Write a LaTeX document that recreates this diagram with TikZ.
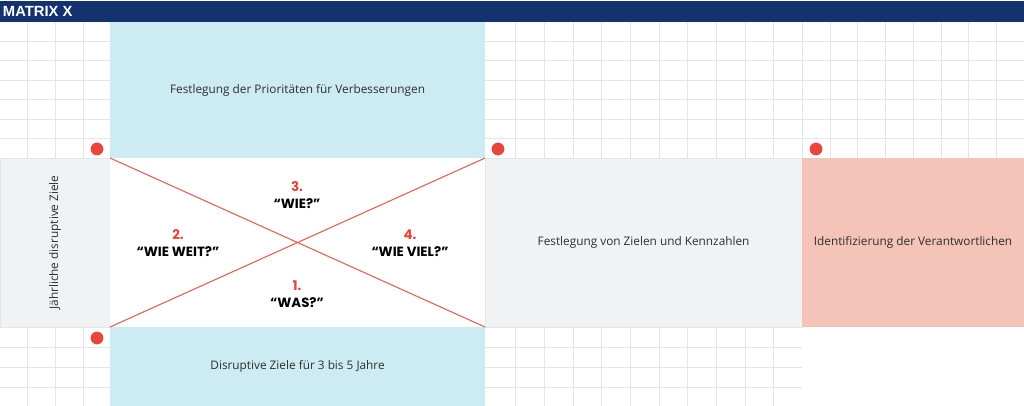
\documentclass[tikz,border=0pt]{standalone}
\usepackage{fontspec}
\usepackage{xcolor}
\usepackage{tikz}
\usetikzlibrary{positioning}
\setmainfont{Open Sans}
\newfontfamily\headfont{Liberation Sans}
\newfontfamily\quotefont{Poppins}

\definecolor{navy}{HTML}{13326F}
\definecolor{skyblue}{HTML}{CDEBF2}
\definecolor{paleGray}{HTML}{F1F2F4}
\definecolor{salmon}{HTML}{F4C4B8}
\definecolor{dotred}{HTML}{E8453C}
\definecolor{xred}{HTML}{E0685A}
\definecolor{gridgray}{HTML}{E3E5E8}

\begin{document}
\begin{tikzpicture}[x=0.025cm, y=-0.025cm,
                    every node/.style={inner sep=0pt, outer sep=0pt},
                    cell/.style={anchor=north west, font=\fontsize{8.4}{10}\selectfont, text=black!82},
                    dot/.style={circle, fill=dotred, minimum size=0.32cm},
                    answer/.style={align=center, font=\quotefont\bfseries\fontsize{9.5}{12}\selectfont}]
    \useasboundingbox (0,0) rectangle (1024,406);
    %\draw[help lines] (0,0) grid (1024,406);

   % Background grid
   \begin{scope}[gridgray, line width=0.5pt]
    \foreach \y in {41.4,60.8,80.2,99.6,119,138.4}
      \draw (0,\y) -- (110,\y) (485,\y) -- (1024,\y);
    \foreach \y in {347,367,387}
      \draw (0,\y) -- (110,\y) (485,\y) -- (802,\y);
    \foreach \x in {27.5,55,83}
      \draw (\x,22) -- (\x,158) (\x,327) -- (\x,406);
    \foreach \x in {515,544,573,601,630,659,687,716,745,773}
      \draw (\x,22) -- (\x,158) (\x,327) -- (\x,406);
    \foreach \x in {802,830,857,885,913,941,968,996}
      \draw (\x,22) -- (\x,158);
   \end{scope}

   % Header
   \node[anchor=north west, fill=navy, minimum width=25.6cm, minimum height=0.525cm] (header) at (0,1) {};
   \node[anchor=west, text=white, font=\headfont\bfseries\fontsize{10.5}{12}\selectfont] (title) at (3,11.5) {MATRIX X};

   % Cells of the matrix
   \node[cell, fill=skyblue, minimum width=9.375cm, minimum height=3.4cm] (prio) at (110,22)
        {Festlegung der Prioritäten für Verbesserungen};
   \node[cell, fill=paleGray, draw=gridgray, minimum width=2.75cm, minimum height=4.225cm] (annual) at (0,158) {};
   \node[rotate=90, font=\fontsize{8.4}{10}\selectfont, text=black!82] (annualtext) at (annual.center)
        {Jährliche disruptive Ziele};
   \node[cell, fill=white, minimum width=9.375cm, minimum height=4.225cm] (cross) at (110,158) {};
   \node[cell, fill=paleGray, draw=gridgray, minimum width=7.925cm, minimum height=4.225cm] (kpi) at (485,158)
        {Festlegung von Zielen und Kennzahlen};
   \node[cell, fill=salmon, minimum width=5.55cm, minimum height=4.225cm] (owner) at (802,158)
        {Identifizierung der Verantwortlichen};
   \node[cell, fill=skyblue, minimum width=9.375cm, minimum height=1.975cm] (longterm) at (110,327)
        {Disruptive Ziele für 3 bis 5 Jahre};

   % The X
   \draw[xred, line width=0.8pt] (cross.north west) -- (cross.south east)
                                 (cross.south west) -- (cross.north east);

   % Questions
   \node[answer] (how)     at (297,195) {\textcolor{dotred}{3.}\\“WIE?”};
   \node[answer] (howfar)  at (178,243) {\textcolor{dotred}{2.}\\“WIE WEIT?”};
   \node[answer] (howmuch) at (410,243) {\textcolor{dotred}{4.}\\“WIE VIEL?”};
   \node[answer] (what)    at (297,294) {\textcolor{dotred}{1.}\\“WAS?”};

   % Red dots
   \node[dot] (dot1) at (97,149) {};
   \node[dot] (dot2) at (498,149) {};
   \node[dot] (dot3) at (816,149) {};
   \node[dot] (dot4) at (97,338) {};

\end{tikzpicture}
\end{document}
